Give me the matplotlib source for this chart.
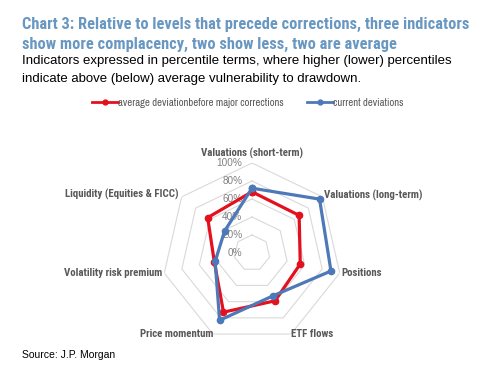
import numpy as np
import matplotlib.pyplot as plt
from matplotlib.lines import Line2D

# data
categories = ['Valuations (short-term)', 'Valuations (long-term)', 'Positions',
              'ETF flows', 'Price momentum', 'Volatility risk premium',
              'Liquidity (Equities & FICC)']
avg_before = [0.68, 0.67, 0.55, 0.59, 0.73, 0.43, 0.63]
current = [0.72, 0.96, 0.90, 0.53, 0.83, 0.42, 0.39]
ring_levels = [0.2, 0.4, 0.6, 0.8, 1.0]
tick_levels = [0.0, 0.2, 0.4, 0.6, 0.8, 1.0]
tick_labels = ['0%', '20%', '40%', '60%', '80%', '100%']

red = '#e3101e'
blue = '#4d79b8'
grey = '#595959'
narrow = ['Archivo Narrow', 'DejaVu Sans']
cond = ['Roboto Condensed', 'DejaVu Sans']

fig = plt.figure(figsize=(5, 3.77), dpi=100)

# title / subtitle
fig.text(0.044, 0.935, 'Chart 3: Relative to levels that precede corrections, three indicators',
         fontsize=11.75, fontweight='bold', color='#6897c2', family=cond, va='center')
fig.text(0.044, 0.881, 'show more complacency, two show less, two are average',
         fontsize=11.75, fontweight='bold', color='#6897c2', family=cond, va='center')
fig.text(0.044, 0.838, 'Indicators expressed in percentile terms, where higher (lower) percentiles',
         fontsize=9.5, color='black', family='Liberation Sans', va='center')
fig.text(0.044, 0.790, 'indicate above (below) average vulnerability to drawdown.',
         fontsize=9.5, color='black', family='Liberation Sans', va='center')
fig.text(0.044, 0.058, 'Source: J.P. Morgan', fontsize=7.5, color='black',
         family='Liberation Sans', va='center')

ax = fig.add_axes([0.324, 0.0902, 0.36, 0.4775], projection='polar')
ax.set_theta_zero_location('N')
ax.set_theta_direction(-1)
ax.set_ylim(0, 1)
ax.grid(False)
ax.spines['polar'].set_visible(False)
ax.set_xticks([])
ax.set_yticks([])
ax.patch.set_alpha(0)

n = len(categories)
theta = np.linspace(0, 2 * np.pi, n, endpoint=False)
theta_c = np.append(theta, theta[0])

for r in ring_levels:
    ax.plot(theta_c, [r] * (n + 1), color='#d9d9d9', lw=0.8, zorder=1)

ax.plot(theta_c, avg_before + avg_before[:1], color=red, lw=2.3, marker='o',
        ms=4.5, zorder=3, clip_on=False)
ax.plot(theta_c, current + current[:1], color=blue, lw=2.3, marker='o',
        ms=4.5, zorder=4, clip_on=False)

for r, lab in zip(tick_levels, tick_labels):
    ax.annotate(lab, xy=(0, r), xytext=(-7, 0), textcoords='offset points',
                ha='right', va='center', fontsize=7.2, color='#808080',
                family='Liberation Sans', zorder=2)

# category labels
label_pos = [(1.11, 'center'), (1.02, 'left'), (1.02, 'left'), (1.0, 'left'),
             (1.0, 'right'), (1.02, 'right'), (1.04, 'right')]
for t, lab, (r, ha) in zip(theta, categories, label_pos):
    ax.text(t, r, lab, ha=ha, va='center', fontsize=7.8, fontweight='bold',
            color=grey, family=cond)

handles = [Line2D([], [], color=red, lw=2, marker='o', ms=3.5),
           Line2D([], [], color=blue, lw=2, marker='o', ms=3.5)]
fig.legend(handles, ['average deviationbefore major corrections', 'current deviations'],
           loc='center', bbox_to_anchor=(0.496, 0.727), ncol=2, frameon=False,
           labelcolor=grey, handlelength=2.4, handletextpad=0.0,
           columnspacing=2.2, prop={'family': narrow, 'size': 7.7})

fig.savefig('out.png', dpi=100)
